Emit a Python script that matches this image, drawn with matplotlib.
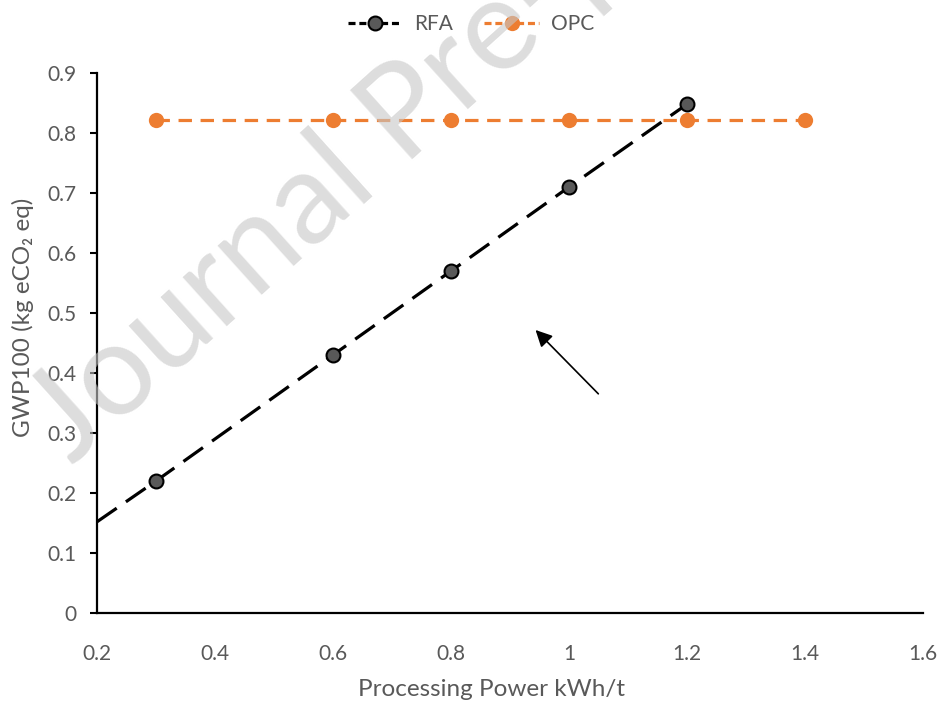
import matplotlib
matplotlib.use("Agg")
import matplotlib.pyplot as plt
from matplotlib.lines import Line2D

# data
power = [0.2, 0.3, 0.6, 0.8, 1.0, 1.2]
rfa = [0.152, 0.22, 0.43, 0.57, 0.71, 0.848]
opc_power = [0.3, 0.6, 0.8, 1.0, 1.2, 1.4]
opc = [0.822, 0.822, 0.822, 0.822, 0.822, 0.822]
x_ticks = [0.2, 0.4, 0.6, 0.8, 1.0, 1.2, 1.4, 1.6]
x_labels = ["0.2", "0.4", "0.6", "0.8", "1", "1.2", "1.4", "1.6"]
y_ticks = [0, 0.1, 0.2, 0.3, 0.4, 0.5, 0.6, 0.7, 0.8, 0.9]
y_labels = ["0", "0.1", "0.2", "0.3", "0.4", "0.5", "0.6", "0.7", "0.8", "0.9"]

plt.rcParams['font.family'] = ['Lato', 'DejaVu Sans']
grey = '#595959'
orange = '#ED7D31'

fig = plt.figure(figsize=(9.42, 7.02), dpi=100)
ax = fig.add_axes([97/942, 89/702, 826/942, 540/702])

ax.plot(power, rfa, color='black', lw=2.3, dashes=(7.5, 3.5),
        marker='o', markevery=[1, 2, 3, 4, 5], markersize=10,
        markerfacecolor=grey, markeredgecolor='black', markeredgewidth=1.5,
        zorder=3)
ax.plot(opc_power, opc, color=orange, lw=2.3, dashes=(4.2, 2.7),
        marker='o', markersize=11, markeredgewidth=0, zorder=2)

ax.set_xlim(0.2, 1.6)
ax.set_ylim(0, 0.9)
ax.set_xticks(x_ticks)
ax.set_xticklabels(x_labels)
ax.set_yticks(y_ticks)
ax.set_yticklabels(y_labels)
ax.tick_params(axis='x', length=0, pad=22, labelsize=15, labelcolor=grey)
ax.tick_params(axis='y', length=5, width=1.5, pad=10, labelsize=15, labelcolor=grey)
for s in ['top', 'right']:
    ax.spines[s].set_visible(False)
for s in ['left', 'bottom']:
    ax.spines[s].set_linewidth(1.6)
    ax.spines[s].set_color('black')

ax.set_xlabel("Processing Power kWh/t", fontsize=17.5, color=grey)
ax.xaxis.set_label_coords((492 - 97) / 826, (613 - 679) / 540)
ax.set_ylabel("GWP100 (kg eCO\u2082 eq)", fontsize=17.5, color=grey)
ax.yaxis.set_label_coords((23 - 97) / 826, (613 - 317) / 540)
ax.yaxis.label.set_va('center')

handles = [
    Line2D([], [], color='black', lw=2.3, dashes=(2.2, 1.2), marker='o',
           markersize=10, markerfacecolor=grey, markeredgecolor='black',
           markeredgewidth=1.5),
    Line2D([], [], color=orange, lw=2.3, dashes=(2.2, 1.2), marker='o',
           markersize=11, markeredgewidth=0),
]
fig.legend(handles, ['RFA', 'OPC'], loc='center',
           bbox_to_anchor=(471 / 942, 1 - 24 / 702), ncol=2, frameon=False,
           fontsize=15, labelcolor=grey, handlelength=2.6, columnspacing=1.5,
           handletextpad=0.6)

ax.annotate("", xy=(0.94, 0.475), xytext=(1.053, 0.362),
            arrowprops=dict(arrowstyle='-|>,head_length=1.0,head_width=0.5',
                            color='black', lw=1.2))

fig.text(72 / 942, 1 - 466 / 702, "Journal Pre-proof", fontsize=93, rotation=42,
         rotation_mode='anchor', ha='left', va='baseline',
         color=(0.78, 0.78, 0.78), alpha=0.6, zorder=10)

fig.savefig("out.png", dpi=100)
